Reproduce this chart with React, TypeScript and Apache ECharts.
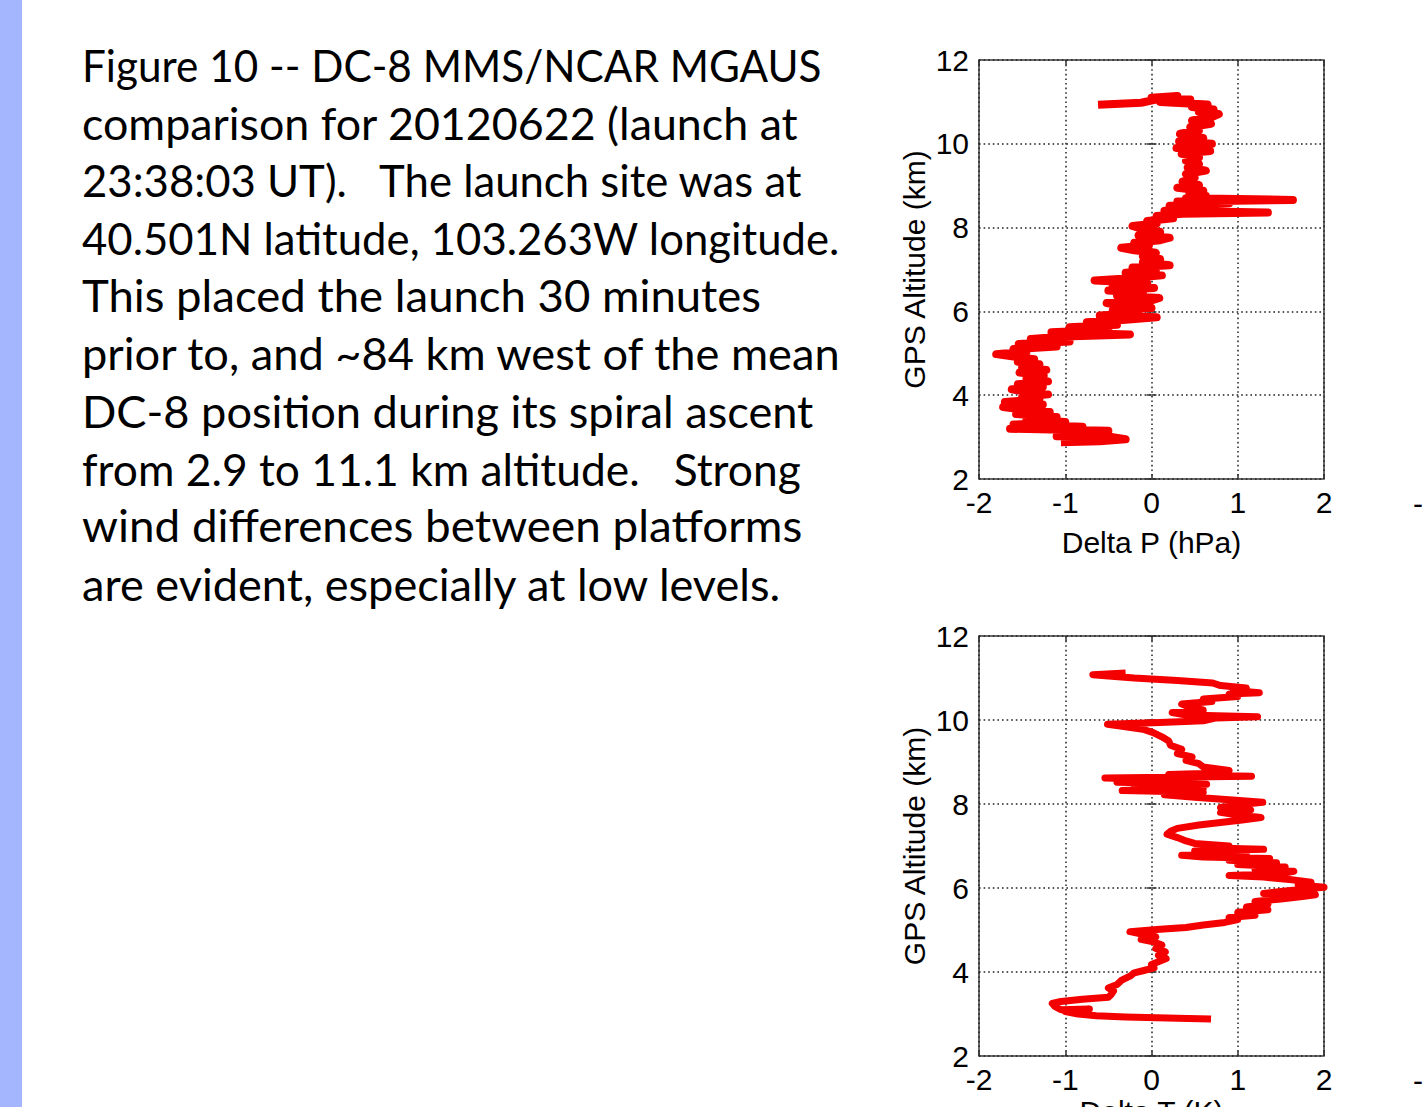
import React, { useEffect, useRef } from "react";
import * as echarts from "echarts";

// Top panel: Delta P (hPa) vs GPS altitude (km)
const pAlt = [2.88, 2.9, 2.95, 3.0, 3.02, 3.06, 3.1, 3.15, 3.2, 3.25, 3.3, 3.36, 3.42, 3.48, 3.55, 3.6, 3.66, 3.72, 3.78, 3.84, 3.9, 3.96, 4.02, 4.08, 4.14, 4.2, 4.26, 4.33, 4.4, 4.47, 4.54, 4.6, 4.67, 4.74, 4.8, 4.86, 4.92, 4.98, 5.04, 5.1, 5.16, 5.22, 5.28, 5.34, 5.4, 5.45, 5.5, 5.56, 5.62, 5.68, 5.74, 5.8, 5.86, 5.9, 5.96, 6.02, 6.08, 6.14, 6.2, 6.26, 6.32, 6.38, 6.44, 6.5, 6.56, 6.62, 6.68, 6.74, 6.8, 6.86, 6.92, 6.98, 7.05, 7.1, 7.18, 7.25, 7.32, 7.4, 7.46, 7.52, 7.58, 7.64, 7.7, 7.76, 7.82, 7.9, 7.96, 8.04, 8.1, 8.16, 8.22, 8.28, 8.33, 8.36, 8.4, 8.46, 8.52, 8.58, 8.62, 8.66, 8.7, 8.76, 8.82, 8.88, 8.95, 9.02, 9.1, 9.19, 9.28, 9.36, 9.44, 9.52, 9.6, 9.68, 9.76, 9.83, 9.9, 10.0, 10.06, 10.14, 10.24, 10.32, 10.4, 10.48, 10.56, 10.64, 10.71, 10.76, 10.82, 10.88, 10.94, 11.0, 11.06, 11.1, 11.14, 11.08, 10.98, 10.93];
const pDelta = [-1.05, -0.6, -0.3, -0.45, -1.1, -0.55, -0.9, -0.5, -1.64, -0.8, -1.6, -1.0, -1.45, -1.1, -1.57, -1.18, -1.5, -1.72, -1.26, -1.7, -1.3, -1.5, -1.2, -1.45, -1.62, -1.26, -1.55, -1.2, -1.45, -1.25, -1.53, -1.22, -1.5, -1.3, -1.55, -1.36, -1.6, -1.8, -1.45, -1.6, -1.1, -1.54, -0.95, -1.4, -1.0, -0.25, -1.16, -0.5, -0.95, -0.4, -0.75, -0.3, 0.06, -0.6, -0.15, -0.45, 0.0, -0.35, -0.52, 0.0, 0.09, -0.4, -0.1, -0.5, 0.03, -0.45, -0.05, -0.66, -0.2, 0.12, -0.3, 0.05, -0.22, 0.21, -0.1, 0.1, -0.1, 0.05, -0.2, -0.35, -0.03, -0.2, 0.1, 0.21, -0.15, 0.1, -0.1, -0.22, 0.06, -0.05, 0.25, 0.06, 0.36, 1.35, 0.15, 0.45, 0.21, 0.9, 0.3, 1.64, 0.4, 0.63, 0.44, 0.6, 0.3, 0.55, 0.36, 0.5, 0.4, 0.63, 0.42, 0.55, 0.4, 0.55, 0.35, 0.68, 0.29, 0.7, 0.32, 0.6, 0.33, 0.55, 0.45, 0.69, 0.47, 0.7, 0.78, 0.55, 0.72, 0.47, 0.65, 0.1, 0.45, 0.0, 0.3, 0.1, -0.12, -0.62];

// Bottom panel: Delta T vs GPS altitude (km)
const tAlt = [2.88, 2.9, 2.93, 2.96, 3.0, 3.06, 3.12, 3.1, 3.18, 3.25, 3.3, 3.35, 3.4, 3.46, 3.55, 3.62, 3.7, 3.8, 3.9, 3.98, 4.03, 4.1, 4.18, 4.26, 4.32, 4.4, 4.48, 4.56, 4.64, 4.72, 4.78, 4.84, 4.9, 4.96, 5.02, 5.06, 5.12, 5.18, 5.25, 5.3, 5.35, 5.42, 5.48, 5.55, 5.62, 5.68, 5.74, 5.8, 5.84, 5.87, 5.92, 5.97, 6.02, 6.08, 6.14, 6.2, 6.26, 6.3, 6.34, 6.4, 6.45, 6.5, 6.56, 6.6, 6.66, 6.7, 6.74, 6.78, 6.82, 6.88, 6.92, 6.96, 7.0, 7.06, 7.12, 7.2, 7.28, 7.35, 7.42, 7.5, 7.56, 7.62, 7.68, 7.74, 7.8, 7.86, 7.92, 7.98, 8.04, 8.1, 8.16, 8.22, 8.28, 8.32, 8.38, 8.42, 8.47, 8.52, 8.57, 8.62, 8.66, 8.7, 8.74, 8.8, 8.88, 8.96, 9.04, 9.12, 9.2, 9.3, 9.4, 9.5, 9.6, 9.7, 9.78, 9.84, 9.9, 9.94, 9.98, 10.05, 10.08, 10.12, 10.18, 10.24, 10.3, 10.38, 10.44, 10.5, 10.56, 10.62, 10.65, 10.7, 10.76, 10.82, 10.88, 10.94, 11.0, 11.05, 11.08, 11.12];
const tDelta = [0.69, 0.3, -0.3, -0.64, -0.85, -1.0, -0.72, -1.05, -1.12, -1.15, -1.05, -0.8, -0.5, -0.47, -0.44, -0.5, -0.4, -0.35, -0.25, -0.2, -0.1, 0.03, 0.0, 0.1, 0.17, 0.08, 0.16, 0.05, 0.12, 0.02, -0.12, 0.05, -0.1, -0.25, 0.1, 0.4, 0.6, 0.85, 1.0, 0.9, 1.2, 1.0, 1.35, 1.1, 1.35, 1.2, 1.5, 1.75, 1.9, 1.3, 1.5, 1.75, 2.0, 1.7, 1.85, 1.6, 1.3, 0.9, 1.5, 1.65, 1.2, 1.55, 1.0, 1.45, 0.9, 1.37, 0.6, 0.35, 1.1, 0.5, 1.3, 0.6, 0.9, 0.5, 0.4, 0.3, 0.18, 0.22, 0.3, 0.55, 0.8, 1.05, 1.27, 1.0, 0.8, 1.15, 0.8, 1.0, 1.29, 0.9, 0.5, 0.15, 0.6, -0.34, 0.6, -0.2, 0.64, -0.4, 0.3, -0.54, 1.16, 0.2, 0.8, 0.9, 0.6, 0.55, 0.4, 0.47, 0.3, 0.35, 0.22, 0.2, 0.12, 0.02, -0.1, -0.3, -0.51, 0.1, 0.6, 0.75, 1.23, 0.4, 0.24, 0.6, 0.45, 0.35, 0.7, 0.6, 1.0, 0.9, 1.25, 0.95, 1.1, 0.8, 0.71, 0.3, -0.2, -0.5, -0.68, -0.3];

const xTicksMin = -2;
const xTicksMax = 2;
const yTicksMin = 2;
const yTicksMax = 12;
const yAxisTitle = "GPS Altitude (km)";
const topXTitle = "Delta P (hPa)";
const bottomXTitle = "Delta T (K)";

const captionLines = [
  "Figure 10 -- DC-8 MMS/NCAR MGAUS",
  "comparison for 20120622 (launch at",
  "23:38:03 UT).\u00a0\u00a0 The launch site was at",
  "40.501N latitude, 103.263W longitude.",
  "This placed the launch 30 minutes",
  "prior to, and ~84 km west of the mean",
  "DC-8 position during its spiral ascent",
  "from 2.9 to 11.1 km altitude.\u00a0\u00a0 Strong",
  "wind differences between platforms",
  "are evident, especially at low levels.",
];
// horizontal fit of each caption line to the reference's line lengths
const captionScaleX = [0.961, 1.018, 0.993, 0.993, 1.034, 1.027, 1.027, 1.008, 1.041, 1.026];

const AX_FONT = "'Liberation Sans', Arial, sans-serif";
const AX_SIZE = 30;

function zip(vals: number[], alts: number[]) {
  return vals.map((v, i) => [v, alts[i]]);
}

export default function App() {
  const ref = useRef<HTMLDivElement>(null);
  useEffect(() => {
    document.body.style.margin = "0";
    const chart = echarts.init(ref.current!, null, { renderer: "svg" });
    const grids = [
      { left: 979, top: 60, width: 345, height: 419 },
      { left: 979, top: 636, width: 345, height: 420 },
    ];
    const labelStyle = { color: "#000", fontSize: AX_SIZE, fontFamily: AX_FONT };
    const tick = { show: true, inside: true, length: 5, lineStyle: { color: "#333", width: 1.5 } };
    const split = { show: true, lineStyle: { type: [1.6, 3], color: "#222", width: 1.5 } };
    const mainX = (gi: number, name: string, gap: number) => ({
      type: "value",
      gridIndex: gi,
      min: xTicksMin,
      max: xTicksMax,
      interval: 1,
      name,
      nameLocation: "middle",
      nameGap: gap,
      nameTextStyle: { color: "#000", fontSize: AX_SIZE, fontFamily: AX_FONT },
      axisLine: { show: false },
      axisTick: tick,
      axisLabel: { ...labelStyle, margin: 8, showMinLabel: true, showMaxLabel: true },
      splitLine: split,
    });
    const mainY = (gi: number) => ({
      type: "value",
      gridIndex: gi,
      min: yTicksMin,
      max: yTicksMax,
      interval: 2,
      name: yAxisTitle,
      nameLocation: "middle",
      nameGap: 50,
      nameTextStyle: { color: "#000", fontSize: AX_SIZE, fontFamily: AX_FONT },
      axisLine: { show: false },
      axisTick: tick,
      axisLabel: { ...labelStyle, margin: 10, showMinLabel: true, showMaxLabel: true },
      splitLine: split,
    });
    const secX = (gi: number) => ({
      type: "value",
      gridIndex: gi,
      position: "top",
      min: xTicksMin,
      max: xTicksMax,
      interval: 1,
      axisLine: { show: false },
      axisTick: tick,
      axisLabel: { show: false },
      splitLine: { show: false },
    });
    const secY = (gi: number) => ({
      type: "value",
      gridIndex: gi,
      position: "right",
      min: yTicksMin,
      max: yTicksMax,
      interval: 2,
      axisLine: { show: false },
      axisTick: tick,
      axisLabel: { show: false },
      splitLine: { show: false },
    });
    const lineSeries = (xi: number, yi: number, data: number[][], w: number) => ({
      type: "line",
      xAxisIndex: xi,
      yAxisIndex: yi,
      data,
      showSymbol: false,
      symbol: "none",
      lineStyle: { color: "#f40000", width: w, join: "round" },
      z: 3,
    });
    const graphic: any[] = [
      { type: "rect", shape: { x: 0, y: 0, width: 22, height: 1107 }, style: { fill: "#A4B6FE" } },
      ...captionLines.map((t, i) => ({
        type: "text",
        x: 82,
        y: 65 + i * 57.6,
        scaleX: captionScaleX[i],
        style: {
          text: t,
          fill: "#000",
          fontSize: 44,
          fontFamily: "Lato, 'Open Sans', sans-serif",
          verticalAlign: "middle",
          align: "left",
        },
      })),
      { type: "text", x: 1413, y: 503, style: { text: "-", fill: "#000", fontSize: AX_SIZE, fontFamily: AX_FONT, verticalAlign: "middle" } },
      { type: "text", x: 1413, y: 1080, style: { text: "-", fill: "#000", fontSize: AX_SIZE, fontFamily: AX_FONT, verticalAlign: "middle" } },
    ];
    chart.setOption({
      animation: false,
      backgroundColor: "#fff",
      grid: grids.map((g) => ({
        ...g,
        outerBoundsMode: "none",
        containLabel: false,
        show: true,
        borderColor: "#3a3a3a",
        borderWidth: 1.5,
        backgroundColor: "#fff",
      })),
      xAxis: [mainX(0, topXTitle, 48), mainX(1, bottomXTitle, 40), secX(0), secX(1)],
      yAxis: [mainY(0), mainY(1), secY(0), secY(1)],
      series: [lineSeries(0, 0, zip(pDelta, pAlt), 8), lineSeries(1, 1, zip(tDelta, tAlt), 7)],
      graphic,
    });
    return () => chart.dispose();
  }, []);
  return <div ref={ref} style={{ width: 1423, height: 1107 }} />;
}
